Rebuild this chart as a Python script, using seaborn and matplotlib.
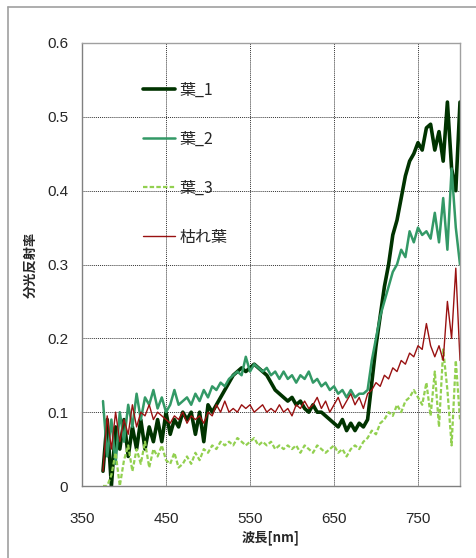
import numpy as np
import pandas as pd
import matplotlib
matplotlib.use("Agg")
import matplotlib.pyplot as plt
import seaborn as sns
from matplotlib.lines import Line2D

# wavelength grid [nm], 5 nm steps
wavelength = list(range(375, 801, 5))

leaf_1 = [0.02, 0.09, 0.00, 0.08, 0.05, 0.09, 0.04, 0.08, 0.05, 0.09,
          0.05, 0.08, 0.06, 0.09, 0.06, 0.10, 0.07, 0.09, 0.08, 0.10,
          0.09, 0.10, 0.07, 0.10, 0.06, 0.11, 0.10, 0.11, 0.12, 0.13,
          0.14, 0.15, 0.155, 0.16, 0.155, 0.16, 0.165, 0.16, 0.155, 0.15,
          0.14, 0.13, 0.125, 0.12, 0.115, 0.12, 0.11, 0.115, 0.105, 0.10,
          0.11, 0.10, 0.10, 0.095, 0.09, 0.085, 0.08, 0.09, 0.075, 0.085,
          0.075, 0.085, 0.08, 0.09, 0.14, 0.19, 0.23, 0.27, 0.30, 0.34,
          0.36, 0.39, 0.42, 0.44, 0.45, 0.465, 0.455, 0.485, 0.49, 0.455,
          0.48, 0.44, 0.52, 0.43, 0.40, 0.52]

leaf_2 = [0.115, 0.04, 0.09, 0.03, 0.10, 0.06, 0.11, 0.08, 0.125, 0.09,
          0.12, 0.11, 0.13, 0.105, 0.12, 0.10, 0.11, 0.13, 0.11, 0.115,
          0.12, 0.11, 0.125, 0.115, 0.13, 0.12, 0.135, 0.13, 0.14, 0.135,
          0.145, 0.15, 0.155, 0.15, 0.175, 0.155, 0.165, 0.16, 0.155, 0.16,
          0.15, 0.155, 0.145, 0.155, 0.145, 0.15, 0.14, 0.15, 0.145, 0.155,
          0.14, 0.145, 0.135, 0.14, 0.13, 0.135, 0.125, 0.13, 0.12, 0.13,
          0.12, 0.125, 0.125, 0.13, 0.17, 0.20, 0.23, 0.25, 0.27, 0.29,
          0.30, 0.32, 0.31, 0.345, 0.33, 0.35, 0.34, 0.345, 0.335, 0.37,
          0.33, 0.39, 0.32, 0.43, 0.35, 0.30]

leaf_3 = [0.0, 0.0, 0.015, 0.045, 0.0, 0.035, 0.055, 0.02, 0.05, 0.03,
          0.06, 0.025, 0.05, 0.04, 0.055, 0.035, 0.03, 0.045, 0.025, 0.03,
          0.04, 0.03, 0.045, 0.035, 0.05, 0.045, 0.055, 0.05, 0.06, 0.055,
          0.06, 0.055, 0.065, 0.06, 0.055, 0.06, 0.065, 0.055, 0.06, 0.055,
          0.06, 0.05, 0.055, 0.05, 0.055, 0.05, 0.055, 0.045, 0.055, 0.05,
          0.045, 0.055, 0.05, 0.045, 0.05, 0.055, 0.045, 0.05, 0.04, 0.05,
          0.055, 0.05, 0.06, 0.065, 0.075, 0.07, 0.085, 0.09, 0.10, 0.095,
          0.11, 0.10, 0.115, 0.12, 0.13, 0.12, 0.11, 0.14, 0.095, 0.155,
          0.08, 0.185, 0.13, 0.055, 0.17, 0.09]

dead_leaf = [0.02, 0.095, 0.05, 0.10, 0.06, 0.09, 0.07, 0.11, 0.08, 0.10,
             0.095, 0.11, 0.09, 0.10, 0.095, 0.09, 0.085, 0.095, 0.09, 0.10,
             0.085, 0.095, 0.09, 0.095, 0.085, 0.10, 0.095, 0.11, 0.10, 0.115,
             0.10, 0.105, 0.10, 0.11, 0.105, 0.11, 0.10, 0.105, 0.11, 0.10,
             0.105, 0.10, 0.11, 0.10, 0.105, 0.095, 0.11, 0.105, 0.115, 0.105,
             0.11, 0.12, 0.105, 0.115, 0.10, 0.11, 0.12, 0.105, 0.115, 0.125,
             0.11, 0.12, 0.105, 0.125, 0.13, 0.14, 0.135, 0.15, 0.145, 0.16,
             0.155, 0.17, 0.165, 0.18, 0.175, 0.19, 0.185, 0.22, 0.19, 0.175,
             0.19, 0.17, 0.25, 0.20, 0.295, 0.17]

labels = ["葉_1", "葉_2", "葉_3", "枯れ葉"]
xticks = [350, 450, 550, 650, 750]
yticks = [0, 0.1, 0.2, 0.3, 0.4, 0.5, 0.6]

sns.set_style("white")
plt.rcParams['font.family'] = ['Noto Sans CJK JP', 'DejaVu Sans']

fig = plt.figure(figsize=(4.76, 5.58), dpi=100)
ax = fig.add_axes([82/476, 1-486/558, 378/476, 443/558])

styles = [
    dict(color="#003300", lw=2.6, ls="-"),
    dict(color="#339966", lw=1.8, ls="-"),
    dict(color="#92d050", lw=1.6, ls=(0, (2, 1))),
    dict(color="#991111", lw=1.0, ls="-"),
]
for y, lab, st in zip([leaf_1, leaf_2, leaf_3, dead_leaf], labels, styles):
    df = pd.DataFrame({"wl": wavelength, "r": y})
    sns.lineplot(data=df, x="wl", y="r", ax=ax, color=st["color"],
                 linewidth=st["lw"], linestyle=st["ls"], label=lab)

ax.set_xlim(350, 800)
ax.set_ylim(0, 0.6)
ax.set_xticks(xticks)
ax.set_yticks(yticks)
ax.set_xticklabels([str(t) for t in xticks], fontfamily="Liberation Sans", fontsize=11)
ax.set_yticklabels(["0" if t == 0 else f"{t:.1f}" for t in yticks],
                   fontfamily="Liberation Sans", fontsize=11)
ax.tick_params(axis="x", length=0, pad=19)
ax.tick_params(axis="y", length=0, pad=10)
ax.grid(True, color="#333333", lw=0.7, ls=(0, (1, 1)))
for s in ax.spines.values():
    s.set_color("#a0a0a0")
    s.set_linewidth(1.0)
ax.spines["left"].set_color("#808080")
ax.spines["bottom"].set_color("#808080")

ax.set_xlabel("波長[nm]", fontsize=9.5, fontweight="bold", labelpad=3)
ax.set_ylabel("分光反射率", fontsize=9.5, fontweight="bold", labelpad=7)

ax.legend(loc="upper left", bbox_to_anchor=(0.14, 0.93), frameon=False,
          fontsize=11.5, labelspacing=2.0, handlelength=2.0, handletextpad=0.3,
          borderpad=0)

# outer chart border (top and left edges visible)
fig.add_artist(Line2D([8/476, 8/476], [0, 1-7/558], transform=fig.transFigure,
                      color="#a0a0a0", lw=1.2))
fig.add_artist(Line2D([8/476, 1], [1-7/558, 1-7/558], transform=fig.transFigure,
                      color="#a0a0a0", lw=1.2))

fig.savefig("out.png", dpi=100)
